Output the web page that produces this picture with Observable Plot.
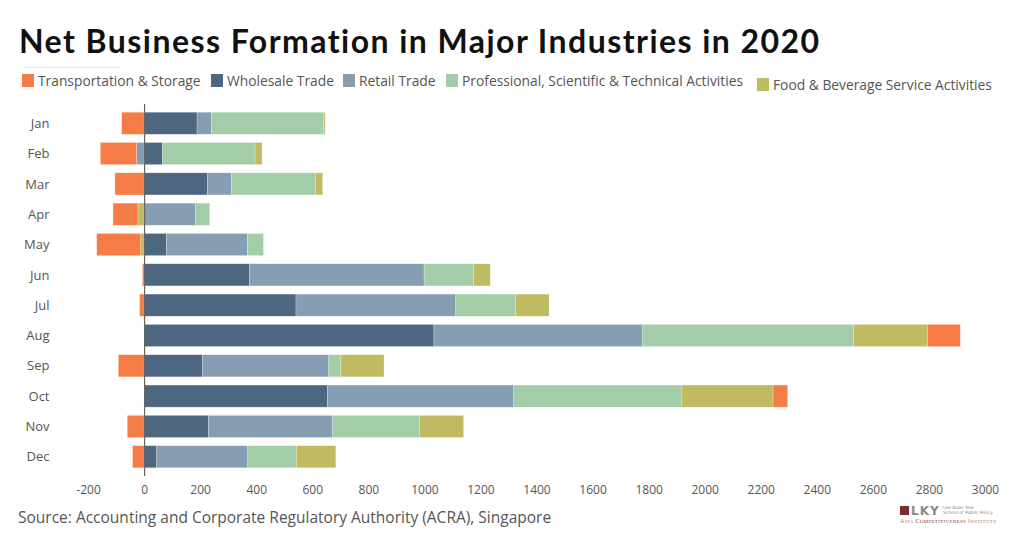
<!DOCTYPE html>
<html>
<head>
<meta charset="utf-8">
<script src="https://cdn.jsdelivr.net/npm/d3@7"></script>
<script src="https://cdn.jsdelivr.net/npm/@observablehq/plot@0.6"></script>
<style>
  html, body { margin: 0; padding: 0; background: #fff; }
  body { width: 1024px; height: 538px; position: relative; overflow: hidden; font-family: "Open Sans", sans-serif; }
  #title { position: absolute; left: 19px; top: 22px; font-family: Lato, sans-serif; font-size: 32px; line-height: 38px; font-weight: 700; color: #111; letter-spacing: 1.45px; white-space: nowrap; }
  #rule { position: absolute; left: 23px; top: 67px; width: 97px; height: 1px; background: #e4e4e4; }
  #legend { position: absolute; left: 22px; top: 71px; font-size: 13.8px; color: #555; white-space: nowrap; }
  .item { position: absolute; top: 0; display: flex; align-items: center; }
  .sw { width: 12px; height: 13px; margin-right: 4px; }
  #chart { position: absolute; left: 0; top: 100px; }
  #caption { position: absolute; left: 18px; top: 506px; font-size: 15.5px; color: #555; white-space: nowrap; }
  #logo { position: absolute; left: 898px; top: 504px; width: 100px; height: 26px; font-family: "Liberation Serif", serif; color: #777; }
</style>
</head>
<body>
<div id="title">Net Business Formation in Major Industries in 2020</div>
<div id="rule"></div>
<div id="legend"></div>
<div id="chart"></div>
<div id="caption">Source: Accounting and Corporate Regulatory Authority (ACRA), Singapore</div>
<div id="logo">
  <div style="position:absolute;left:2px;top:2px;width:9px;height:9px;background:#7a2e2a;"></div>
  <div style="position:absolute;left:13px;top:0px;font-size:12px;font-weight:700;letter-spacing:1px;color:#888;font-family:'DejaVu Sans',sans-serif;">LKY</div>
  <div style="position:absolute;left:45px;top:1px;font-size:4.5px;line-height:5px;color:#888;font-family:'DejaVu Sans',sans-serif;">Lee Kuan Yew<br>School of Public Policy</div>
  <div style="position:absolute;left:2px;top:14px;font-size:6px;letter-spacing:0.3px;color:#888;white-space:nowrap;">A<span style="font-size:5px">SIA</span> <span style="color:#8a3a33">C<span style="font-size:5px">OMPETITIVENESS</span></span> I<span style="font-size:5px">NSTITUTE</span></div>
</div>
<script>
// ---- data ----
const months = ["Jan","Feb","Mar","Apr","May","Jun","Jul","Aug","Sep","Oct","Nov","Dec"];
const industries = [
  "Transportation & Storage",
  "Wholesale Trade",
  "Retail Trade",
  "Professional, Scientific & Technical Activities",
  "Food & Beverage Service Activities"
];
const colors = ["#F57C45", "#4E6780", "#879DB1", "#A3CDA8", "#C0BA62"];
const transport = [-80, -129, -104, -89, -157, -6, -16, 117, -92, 52, -60, -41];
const wholesale = [189, 65, 226, 0, 80, 376, 542, 1034, 209, 654, 230, 45];
const retail    = [52, -27, 85, 183, 289, 623, 570, 743, 450, 665, 443, 325];
const prof      = [400, 331, 300, 51, 57, 176, 213, 754, 43, 600, 309, 173];
const food      = [5, 25, 26, -22, -12, 60, 120, 264, 154, 325, 158, 141];
const xTicks = [-200,0,200,400,600,800,1000,1200,1400,1600,1800,2000,2200,2400,2600,2800,3000];

// stacking order used by the original (transport last)
const stackOrder = [
  [industries[1], wholesale],
  [industries[2], retail],
  [industries[3], prof],
  [industries[4], food],
  [industries[0], transport]
];
const rows = [];
for (const [name, vals] of stackOrder) {
  months.forEach((m, i) => rows.push({month: m, industry: name, value: vals[i]}));
}

// legend
const legendX = [0, 189, 321, 424, 735];
const legendDY = [0, 0, 0, 0, 4];
const legend = document.getElementById("legend");
industries.forEach((name, i) => {
  const d = document.createElement("div");
  d.className = "item";
  d.style.left = legendX[i] + "px";
  d.style.top = legendDY[i] + "px";
  d.innerHTML = `<span class="sw" style="background:${colors[i]}"></span><span>${name}</span>`;
  legend.appendChild(d);
});

const chart = Plot.plot({
  width: 1024,
  height: 405,
  marginLeft: 60,
  marginRight: 25,
  marginTop: 4,
  marginBottom: 29,
  style: {fontFamily: "'Open Sans', sans-serif", fontSize: "13px", color: "#555", background: "#fff"},
  x: {domain: [-300, 3050], ticks: xTicks, tickFormat: d => String(d), label: null},
  y: {domain: months, padding: 0.27, round: false, label: null},
  color: {domain: industries, range: colors},
  marks: [
    Plot.barX(rows, Plot.stackX({x: "value", y: "month", fill: "industry", z: "industry", stroke: "#fff", strokeOpacity: 0.5, strokeWidth: 0.5})),
    Plot.ruleX([0], {stroke: "#666", strokeWidth: 1.2}),
    Plot.axisY({tickSize: 0, tickPadding: 11, fontSize: 13, label: null}),
    Plot.axisX({ticks: xTicks, tickFormat: d => String(d), tickSize: 0, tickPadding: 9, fontSize: 12, label: null})
  ]
});
document.getElementById("chart").appendChild(chart);
</script>
</body>
</html>
